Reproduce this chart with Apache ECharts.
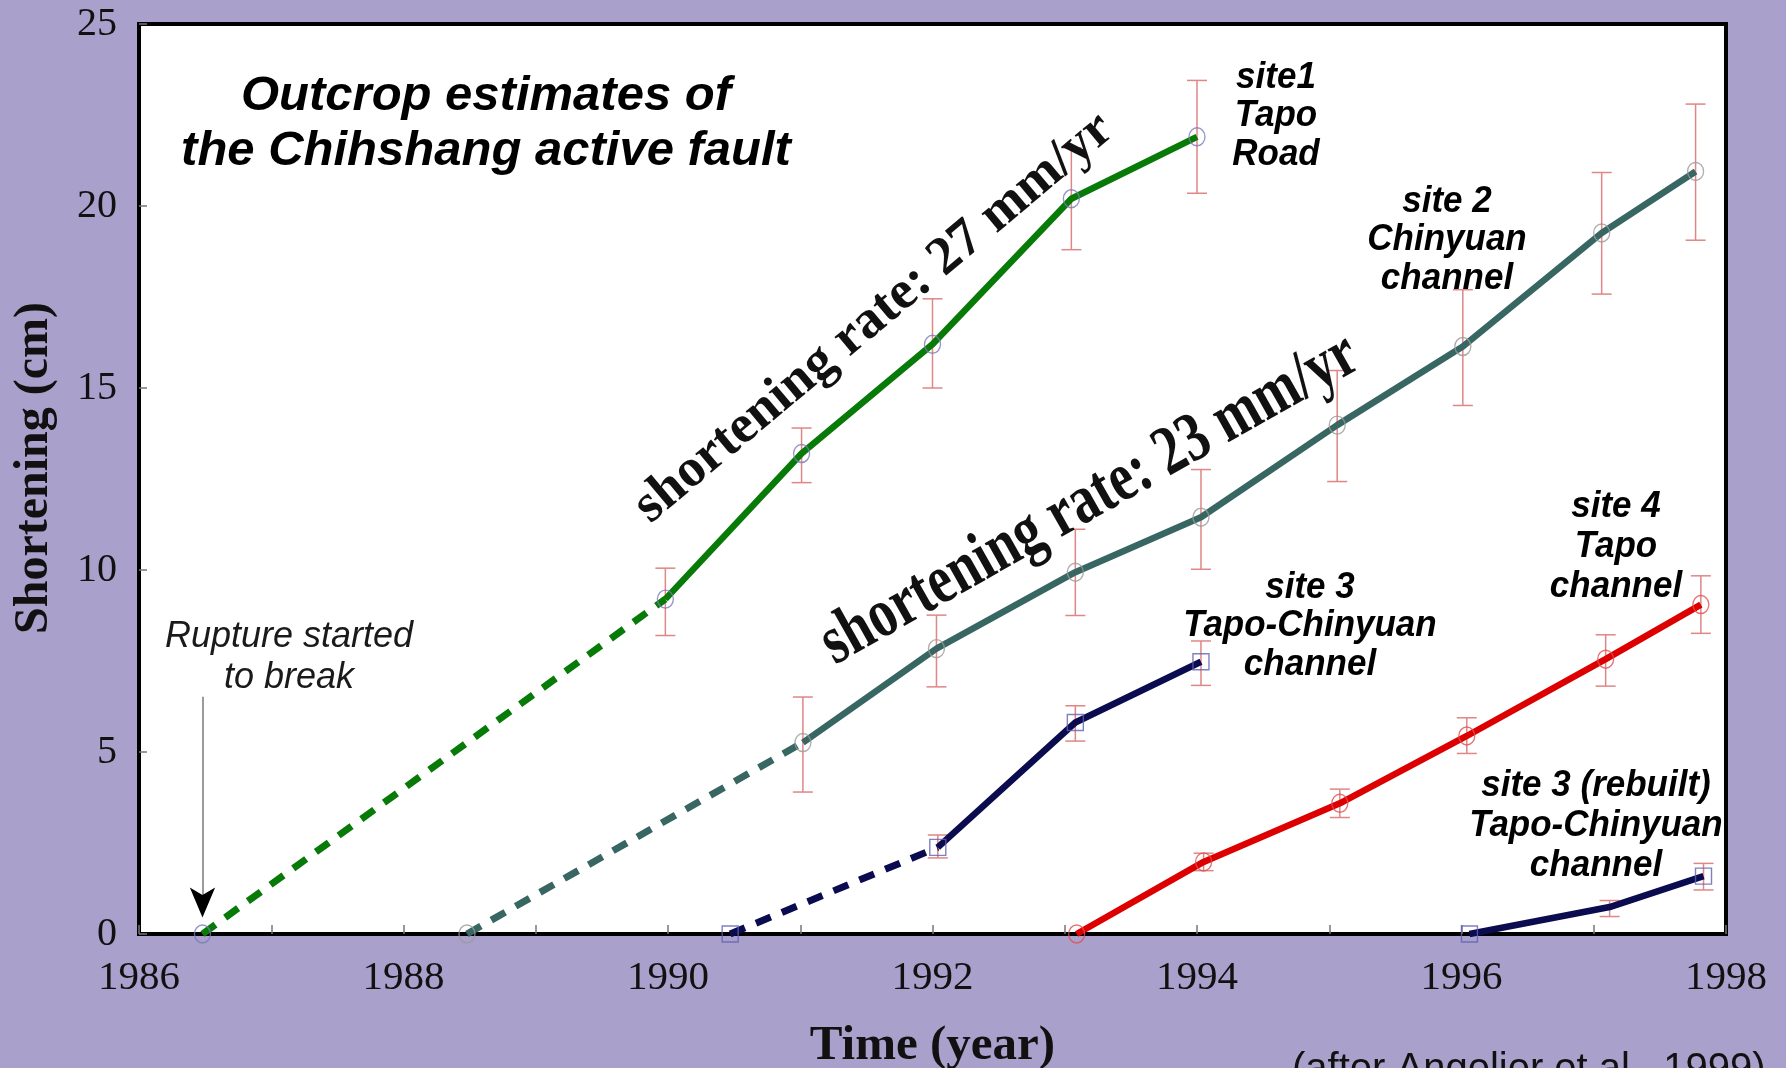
<!DOCTYPE html>
<html>
<head>
<meta charset="utf-8">
<script src="https://cdn.jsdelivr.net/npm/echarts@6/dist/echarts.min.js"></script>
<style>
html,body{margin:0;padding:0;background:#a9a1cc;}
#chart{width:1786px;height:1068px;}
</style>
</head>
<body>
<div id="chart"></div>
<script>
// ---------- axis ticks ----------
const xTickLabels = [1986, 1988, 1990, 1992, 1994, 1996, 1998];
const yTickLabels = [0, 5, 10, 15, 20, 25];

// ---------- site 1: Tapo Road ----------
const site1Years  = [1986.48, 1989.98, 1991.01, 1992.00, 1993.05, 1994.00];
const site1Values = [0, 9.2, 13.2, 16.2, 20.2, 21.9];
const site1Low    = [null, 8.2, 12.4, 15.0, 18.8, 20.35];
const site1High   = [null, 10.05, 13.9, 17.45, 21.6, 23.45];

// ---------- site 2: Chinyuan channel ----------
const site2Years  = [1988.48, 1991.02, 1992.03, 1993.08, 1994.03, 1995.06, 1996.01, 1997.06, 1997.77];
const site2Values = [0, 5.26, 7.84, 9.94, 11.45, 13.98, 16.14, 19.26, 20.95];
const site2Low    = [null, 3.9, 6.79, 8.75, 10.02, 12.43, 14.52, 17.58, 19.06];
const site2High   = [null, 6.51, 8.76, 11.12, 12.76, 15.48, 17.7, 20.92, 22.8];

// ---------- site 3: Tapo-Chinyuan channel ----------
const site3Years  = [1990.47, 1992.04, 1993.08, 1994.03];
const site3Values = [0, 2.38, 5.81, 7.48];
const site3Low    = [null, 2.09, 5.3, 6.83];
const site3High   = [null, 2.72, 6.27, 8.05];

// ---------- site 4: Tapo channel ----------
const site4Years  = [1993.09, 1994.05, 1995.08, 1996.04, 1997.09, 1997.81];
const site4Values = [0, 1.98, 3.59, 5.44, 7.55, 9.05];
const site4Low    = [null, 1.74, 3.2, 4.96, 6.81, 8.26];
const site4High   = [null, 2.22, 3.98, 5.94, 8.22, 9.84];

// ---------- site 3 (rebuilt) ----------
const site3rYears  = [1996.06, 1997.12, 1997.83];
const site3rValues = [0, 0.74, 1.59];
const site3rLow    = [null, 0.48, 1.21];
const site3rHigh   = [null, 0.92, 1.94];
const site3rMarked = [true, false, true];

// rupture arrow (data coords)
const ruptureYear = 1986.48;
const ruptureArrowFrom = 6.52;
const ruptureArrowTo = 0.9;
const ruptureHead = 0.45;

const sites = [
  {name:'site1', years:site1Years, values:site1Values, low:site1Low, high:site1High, dashed:1,
   color:'#087a08', symbol:'circle', symbolSize:[16,18], markerColor:'#7a7ab8'},
  {name:'site2', years:site2Years, values:site2Values, low:site2Low, high:site2High, dashed:1,
   color:'#386662', symbol:'circle', symbolSize:[16,18], markerColor:'#9a9a9a'},
  {name:'site3', years:site3Years, values:site3Values, low:site3Low, high:site3High, dashed:1,
   color:'#0b0b4f', symbol:'rect', symbolSize:[16,16], markerColor:'#6060b0'},
  {name:'site4', years:site4Years, values:site4Values, low:site4Low, high:site4High, dashed:0,
   color:'#dd0000', symbol:'circle', symbolSize:[16,18], markerColor:'#e05050'},
  {name:'site3r', years:site3rYears, values:site3rValues, low:site3rLow, high:site3rHigh, dashed:0,
   color:'#0b0b4f', symbol:'rect', symbolSize:[16,16], markerColor:'#6060b0', marked:site3rMarked}
];

function errorRender(params, api) {
  const x = api.value(0), lo = api.value(1), hi = api.value(2);
  const a = api.coord([x, lo]), b = api.coord([x, hi]);
  const w = 10;
  const st = {stroke:'#e08686', lineWidth:1.5, fill:null};
  return {type:'group', children:[
    {type:'line', shape:{x1:a[0], y1:a[1], x2:b[0], y2:b[1]}, style:st},
    {type:'line', shape:{x1:a[0]-w, y1:a[1], x2:a[0]+w, y2:a[1]}, style:st},
    {type:'line', shape:{x1:b[0]-w, y1:b[1], x2:b[0]+w, y2:b[1]}, style:st}
  ]};
}

const series = [];
sites.forEach(function(s, k){
  const pts = s.years.map(function(x, i){ return [x, s.values[i]]; });
  const errs = [];
  s.years.forEach(function(x, i){ if (s.low[i] != null) errs.push([x, s.low[i], s.high[i]]); });
  series.push({type:'custom', name:s.name+'-err', renderItem:errorRender, data:errs,
    encode:{x:0, y:[1,2]}, z:2, silent:true, clip:false});
  if (s.dashed > 0) {
    const ds = {type:'line', name:s.name+'-dash', data:pts.slice(0, s.dashed+1), symbol:'none',
      lineStyle:{color:s.color, width:7, type:[16,12], cap:'butt'}, z:3, silent:true};
    if (k === 0) {
      ds.markLine = {silent:true, symbol:['none','none'], label:{show:false},
        lineStyle:{color:'#7a7a7a', width:1.5, type:'solid'},
        data:[[{coord:[ruptureYear, ruptureArrowFrom]}, {coord:[ruptureYear, ruptureArrowTo]}]]};
      ds.markPoint = {silent:true, symbol:'arrow', symbolSize:[19,30], symbolRotate:180,
        itemStyle:{color:'#000'}, label:{show:false},
        data:[{coord:[ruptureYear, ruptureHead]}]};
    }
    series.push(ds);
  }
  series.push({type:'line', name:s.name, data:pts.slice(s.dashed), symbol:'none',
    lineStyle:{color:s.color, width:6.5}, z:3, silent:true});
  const mk = pts.filter(function(p, i){ return !s.marked || s.marked[i]; });
  series.push({type:'scatter', name:s.name+'-mk', data:mk, symbol:s.symbol, symbolSize:s.symbolSize,
    itemStyle:{color:'rgba(0,0,0,0)', borderColor:s.markerColor, borderWidth:1.4}, z:4, silent:true, clip:false});
});

function label(x, y, text, extra) {
  return {type:'text', x:x, y:y, z:100, silent:true,
    style:Object.assign({text:text, font:'italic bold 35px "Liberation Sans"', fill:'#000',
      align:'center', verticalAlign:'middle', textAlign:'center', textVerticalAlign:'middle', lineHeight:36}, extra || {})};
}

const chart = echarts.init(document.getElementById('chart'), null, {renderer:'canvas'});
const option = {
  backgroundColor:'#a9a1cc',
  animation:false,
  textStyle:{fontFamily:'"Liberation Serif", serif'},
  grid:{left:139, right:60, top:24, bottom:134, show:true, backgroundColor:'#ffffff',
        borderColor:'#000000', borderWidth:4, outerBoundsMode:'none', containLabel:false},
  xAxis:{type:'value', min:1986, max:1998, interval:1,
    name:'Time (year)', nameLocation:'middle', nameGap:88,
    nameTextStyle:{fontFamily:'"Liberation Serif"', fontWeight:'bold', fontSize:49, color:'#111'},
    axisLine:{show:true, onZero:false, lineStyle:{color:'#000', width:4}},
    axisTick:{show:true, inside:true, length:9, lineStyle:{color:'#777', width:1.5}},
    axisLabel:{margin:24, fontSize:41, color:'#111', fontFamily:'"Liberation Serif"',
      formatter:function(v){ return xTickLabels.indexOf(v) >= 0 ? String(v) : ''; }},
    splitLine:{show:false}},
  yAxis:{type:'value', min:0, max:25, interval:5,
    name:'Shortening (cm)', nameLocation:'middle', nameGap:80, nameRotate:90,
    nameTextStyle:{fontFamily:'"Liberation Serif"', fontWeight:'bold', fontSize:48, color:'#111',
      padding:[0,0,0,22]},
    axisLine:{show:true, onZero:false, lineStyle:{color:'#000', width:4}},
    axisTick:{show:true, inside:true, length:8, lineStyle:{color:'#777', width:1.5}},
    axisLabel:{margin:22, fontSize:40, color:'#111', fontFamily:'"Liberation Serif"',
      formatter:function(v){ return yTickLabels.indexOf(v) >= 0 ? String(v) : ''; }},
    splitLine:{show:false}},
  series:series,
  graphic:[
    {type:'text', x:486, y:124, z:100, silent:true,
     style:{text:'Outcrop estimates of\nthe Chihshang active fault', font:'italic bold 49px "Liberation Sans"',
       fill:'#000', align:'center', verticalAlign:'middle', textAlign:'center', textVerticalAlign:'middle', lineHeight:55}},
    Object.assign(label(1276, 116, 'site1\nTapo\nRoad'), {scaleY:1.08}),
    Object.assign(label(1447, 240, 'site 2\nChinyuan\nchannel'), {scaleY:1.08}),
    Object.assign(label(1310, 626, 'site 3\nTapo-Chinyuan\nchannel'), {scaleY:1.08}),
    Object.assign(label(1616, 547, 'site 4\nTapo\nchannel', {lineHeight:37}), {scaleY:1.08}),
    Object.assign(label(1596, 826, 'site 3 (rebuilt)\nTapo-Chinyuan\nchannel', {lineHeight:37}), {scaleY:1.08}),
    label(289, 657, 'Rupture started\nto break', {font:'italic 36px "Liberation Sans"', fill:'#1a1a1a', lineHeight:41}),
    {type:'text', x:874, y:318, z:100, silent:true, rotation:40 * Math.PI / 180,
     style:{text:'shortening rate: 27 mm/yr', font:'bold 54px "Liberation Serif"', fill:'#111',
       align:'center', verticalAlign:'middle', textAlign:'center', textVerticalAlign:'middle'}},
    {type:'text', x:1090, y:500, z:100, silent:true, rotation:29.5 * Math.PI / 180, scaleX:0.77,
     style:{text:'shortening rate: 23 mm/yr', font:'bold 70px "Liberation Serif"', fill:'#111',
       align:'center', verticalAlign:'middle', textAlign:'center', textVerticalAlign:'middle'}},
    {type:'text', x:1292, y:1070, z:100, silent:true,
     style:{text:'(after Angelier et al., 1999)', font:'40px "Liberation Sans"', fill:'#111',
       align:'left', verticalAlign:'middle', textAlign:'left', textVerticalAlign:'middle'}}
  ]
};
chart.setOption(option);
</script>
</body>
</html>
